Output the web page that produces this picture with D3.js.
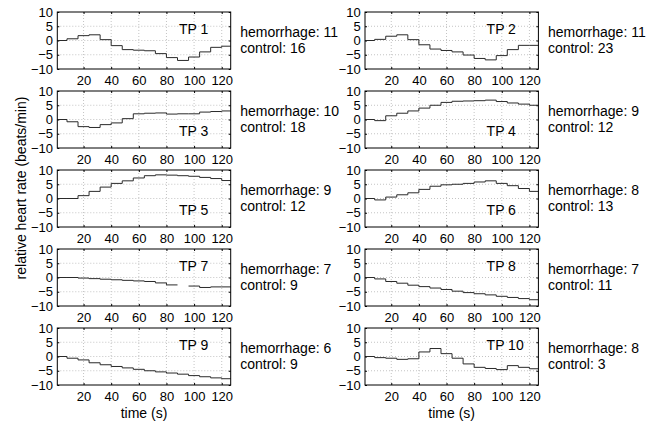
<!DOCTYPE html>
<html>
<head>
<meta charset="utf-8">
<script src="https://cdn.jsdelivr.net/npm/d3@7"></script>
<style>
  body { margin: 0; background: #fff; }
  text { font-family: "Liberation Sans", Arial, sans-serif; fill: #000; }
</style>
</head>
<body>
<svg id="chart" width="667" height="425"></svg>
<script>
// step start times (s), each value holds until the next start
var stepStarts = [1, 8, 16, 24, 32, 40, 48, 56, 64, 72, 80, 88, 96, 104, 112, 120];
var timeEnd = 126.5;

var panelNames = ["TP 1", "TP 2", "TP 3", "TP 4", "TP 5", "TP 6", "TP 7", "TP 8", "TP 9", "TP 10"];
var hemorrhage = [11, 11, 10, 9, 9, 8, 7, 7, 6, 8];
var control = [16, 23, 18, 12, 12, 13, 9, 11, 9, 3];
var labelTop = [true, true, false, false, false, false, true, true, true, true];

// relative heart rate per step (beats/min)
var tp1 = [0, 0.6, 1.7, 2.0, 0.3, -1.8, -3.2, -3.4, -3.6, -4.6, -6.0, -7.0, -5.8, -4.0, -2.4, -2.0];
var tp2 = [0, 0.4, 1.5, 2.0, 0.3, -1.5, -3.0, -3.5, -4.0, -5.1, -6.3, -6.8, -5.3, -3.2, -1.7, -1.7];
var tp3 = [0, -0.8, -2.5, -2.8, -1.8, -1.2, 0.3, 2.0, 2.2, 2.3, 1.9, 2.0, 2.0, 2.6, 2.8, 3.0];
var tp4 = [0, -0.4, 1.3, 2.2, 3.0, 4.0, 5.0, 6.0, 6.4, 6.5, 6.6, 6.8, 6.3, 5.8, 5.4, 5.0];
var tp5 = [0, 0, 1.0, 2.5, 4.0, 5.3, 6.2, 7.2, 8.0, 8.3, 8.2, 8.0, 7.8, 7.4, 7.0, 6.3];
var tp6 = [0, -0.5, 0.5, 1.3, 2.0, 3.2, 4.3, 4.8, 5.0, 5.3, 5.8, 6.2, 5.3, 4.5, 3.5, 2.5];
var tp7 = [0, 0, -0.2, -0.4, -0.6, -0.8, -1.0, -1.2, -1.4, -1.9, -2.6, NaN, -3.0, -3.5, -3.3, -3.3];
var tp8 = [0, -0.5, -1.4, -2.0, -2.7, -3.2, -3.7, -4.2, -4.8, -5.3, -5.7, -6.1, -6.6, -7.0, -7.4, -7.8];
var tp9 = [0, -0.6, -1.2, -2.2, -2.9, -3.5, -4.0, -4.5, -5.0, -5.4, -5.8, -6.2, -6.7, -7.1, -7.5, -7.8];
var tp10 = [0, -0.4, -0.6, -1.0, -0.8, 1.6, 2.8, 1.0, -0.6, -2.6, -3.8, -4.2, -4.6, -3.2, -3.8, -4.3];
var series = [tp1, tp2, tp3, tp4, tp5, tp6, tp7, tp8, tp9, tp10];

var xTicks = [20, 40, 60, 80, 100, 120];
var yTicks = [-10, -5, 0, 5, 10];

var svg = d3.select("#chart");

var colLeft = [57.3, 365];
var plotW = 173.4;
var plotH = 57;
var rowTop = 12, rowPitch = 79;

var x = d3.scaleLinear().domain([1, timeEnd]).range([0, plotW]);
var y = d3.scaleLinear().domain([-10, 10]).range([plotH, 0]);

var line = d3.line()
    .defined(function (d) { return !isNaN(d.v); })
    .x(function (d) { return x(d.t); })
    .y(function (d) { return y(d.v); });

series.forEach(function (vals, i) {
    var col = i % 2, row = Math.floor(i / 2);
    var g = svg.append("g")
        .attr("transform", "translate(" + colLeft[col] + "," + (rowTop + row * rowPitch) + ")");

    // dotted grid
    g.append("g").selectAll("line").data(xTicks).enter().append("line")
        .attr("x1", x).attr("x2", x).attr("y1", 0).attr("y2", plotH)
        .attr("stroke", "#c4c4c4").attr("stroke-dasharray", "1,2");
    g.append("g").selectAll("line").data([-5, 0, 5]).enter().append("line")
        .attr("y1", y).attr("y2", y).attr("x1", 0).attr("x2", plotW)
        .attr("stroke", "#c4c4c4").attr("stroke-dasharray", "1,2");

    // axes with small inward ticks
    var xa = g.append("g").attr("transform", "translate(0," + plotH + ")")
        .call(d3.axisBottom(x).tickValues(xTicks).tickSizeInner(-2).tickSizeOuter(0).tickPadding(7));
    var ya = g.append("g")
        .call(d3.axisLeft(y).tickValues(yTicks).tickSizeInner(-2).tickSizeOuter(0).tickPadding(4.3));
    g.append("g").call(d3.axisTop(x).tickValues(xTicks).tickSizeInner(-2).tickSizeOuter(0).tickFormat(""));
    g.append("g").attr("transform", "translate(" + plotW + ",0)")
        .call(d3.axisRight(y).tickValues(yTicks).tickSizeInner(-2).tickSizeOuter(0).tickFormat(""));
    g.selectAll(".domain").remove();
    g.selectAll(".tick line").attr("stroke", "#000");
    g.selectAll(".tick text").attr("font-size", 13).style("font-family", "'Liberation Sans', Arial, sans-serif");

    // step line: each step as a flat piece from its start to the next start
    var pts = [];
    vals.forEach(function (v, k) {
        var t0 = stepStarts[k];
        var t1 = k + 1 < stepStarts.length ? stepStarts[k + 1] : timeEnd;
        pts.push({t: t0, v: v});
        pts.push({t: t1, v: v});
    });
    g.append("path").datum(pts)
        .attr("fill", "none")
        .attr("stroke", "#2a2a2a")
        .attr("stroke-width", 1)
        .attr("d", line);

    g.append("rect")
        .attr("width", plotW).attr("height", plotH)
        .attr("fill", "none").attr("stroke", "#000").attr("stroke-width", 1);

    g.append("text")
        .attr("x", x(89))
        .attr("y", y(labelTop[i] ? 4 : -4) + 5)
        .attr("font-size", 14)
        .text(panelNames[i]);

    g.append("text")
        .attr("x", plotW + 9.5)
        .attr("y", 24.7)
        .attr("font-size", 14)
        .text("hemorrhage: " + hemorrhage[i]);
    g.append("text")
        .attr("x", plotW + 9.5)
        .attr("y", 41.3)
        .attr("font-size", 14)
        .text("control: " + control[i]);
});

svg.append("text")
    .attr("transform", "translate(26,188) rotate(-90)")
    .attr("text-anchor", "middle")
    .attr("font-size", 14)
    .text("relative heart rate (beats/min)");

colLeft.forEach(function (cx) {
    svg.append("text")
        .attr("x", cx + plotW / 2)
        .attr("y", 418)
        .attr("text-anchor", "middle")
        .attr("font-size", 14)
        .text("time (s)");
});
</script>
</body>
</html>
